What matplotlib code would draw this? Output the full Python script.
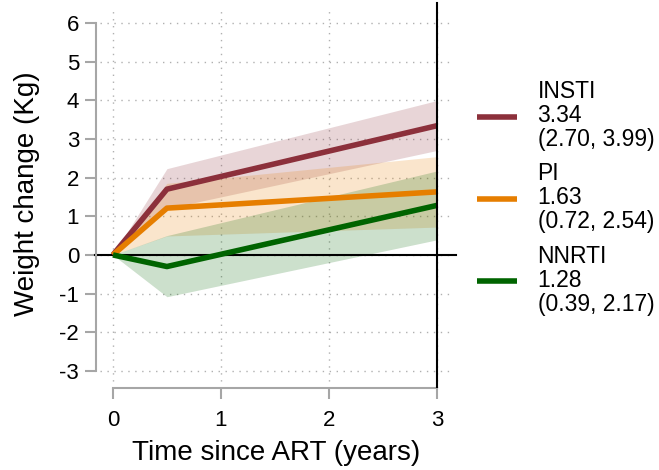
import matplotlib
matplotlib.use("Agg")
import matplotlib.pyplot as plt

plt.rcParams['font.family'] = ['Liberation Sans', 'DejaVu Sans']
plt.rcParams['axes.unicode_minus'] = False

# years since ART start
years = [0, 0.5, 3]

insti = [0, 1.70, 3.34]
insti_lo = [0, 1.20, 2.70]
insti_hi = [0, 2.23, 3.99]

pi = [0, 1.21, 1.63]
pi_lo = [0, 0.49, 0.72]
pi_hi = [0, 1.85, 2.54]

nnrti = [0, -0.30, 1.28]
nnrti_lo = [0, -1.08, 0.39]
nnrti_hi = [0, 0.50, 2.17]

names = ["INSTI", "PI", "NNRTI"]
labels = ["INSTI\n3.34\n(2.70, 3.99)", "PI\n1.63\n(0.72, 2.54)", "NNRTI\n1.28\n(0.39, 2.17)"]
colors = ["#8c303b", "#e67e00", "#006400"]

fig = plt.figure(figsize=(6.59, 4.70), dpi=100)
ax = fig.add_axes([100/659, (470-388)/470, 352/659, 388/470])

series = [(insti, insti_lo, insti_hi), (pi, pi_lo, pi_hi), (nnrti, nnrti_lo, nnrti_hi)]

# grid
for yv in range(-3, 7):
    ax.axhline(yv, color="#b0b0b0", lw=1.0, ls=(0, (1, 4)), zorder=0)
for xv in range(0, 4):
    ax.axvline(xv, color="#b0b0b0", lw=1.0, ls=(0, (1, 4)), zorder=0, ymax=0.98)

for (m, lo, hi), c in zip(series, colors):
    ax.fill_between(years, lo, hi, color=c, alpha=0.2, lw=0, zorder=1)
for (m, lo, hi), c, lab in zip(series, colors, labels):
    ax.plot(years, m, color=c, lw=4, label=lab, zorder=3, solid_capstyle='butt')

ax.axhline(0, xmin=-0.015, xmax=1.01, color="black", lw=1.5, zorder=2, clip_on=False)
ax.axvline(3, ymax=0.992, color="black", lw=1.5, zorder=4)

ax.set_xlim(-0.12, 3.14)
ax.set_ylim(-3.44, 6.59)

for s in ["top", "right"]:
    ax.spines[s].set_visible(False)
ax.spines["left"].set_position(("outward", 3))
ax.spines["left"].set_bounds(-3, 6)
ax.spines["bottom"].set_bounds(0, 3)
for s in ["left", "bottom"]:
    ax.spines[s].set_color("#a6a6a6")
    ax.spines[s].set_linewidth(1.5)

ax.set_yticks(range(-3, 7))
ax.set_xticks(range(0, 4))
ax.tick_params(axis="both", colors="#a6a6a6", width=1.5, length=8, labelsize=16,
               labelcolor="black")
ax.tick_params(axis="x", pad=8)
ax.tick_params(axis="y", pad=4)

ax.set_ylabel("Weight change (Kg)", fontsize=20, labelpad=14)
ax.set_xlabel("Time since ART (years)", fontsize=20, labelpad=6)

leg = ax.legend(loc="center left", bbox_to_anchor=(1.012, 0.49), frameon=False,
                fontsize=16.5, handlelength=1.75, handletextpad=0.9, labelspacing=0.5)
for h in leg.get_lines():
    h.set_linewidth(4)
for t in leg.get_texts():
    t.set_linespacing(1.05)

fig.savefig("out.png", dpi=100)
